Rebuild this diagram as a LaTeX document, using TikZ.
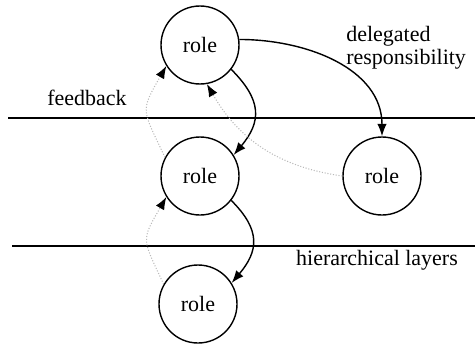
\documentclass[tikz,border=0pt]{standalone}
\usepackage{fontspec}
\setmainfont{Liberation Serif}
\usetikzlibrary{arrows.meta}

\begin{document}
\begin{tikzpicture}[
    every node/.style={font=\fontsize{12.5}{13}\selectfont},
    role/.style={draw, circle, thick, minimum size=1.56cm, inner sep=0pt},
    arrow/.style={-{Latex[length=2.5mm, width=1.9mm]}, thick},
    back/.style={-{Latex[length=2.5mm, width=1.9mm, color=black]}, gray!55, densely dotted, semithick},
    layer/.style={thick}
]
\useasboundingbox (0,0) rectangle (9.5,6.86);

\node[role] (top)   at (4.0,5.96)  {role};
\node[role] (mid)   at (4.0,3.34)  {role};
\node[role] (side)  at (7.64,3.34) {role};
\node[role] (low)   at (3.96,0.78) {role};

% layer boundaries
\coordinate (l1a) at (0.16,4.5);  \coordinate (l1b) at (9.5,4.5);
\coordinate (l2a) at (0.24,1.94); \coordinate (l2b) at (9.5,1.94);
\draw[layer] (l1a) -- (l1b);
\draw[layer] (l2a) -- (l2b);

\node (fb)   at (1.74,4.9)  {feedback};
\node[anchor=west, align=left, inner sep=0pt] (dr) at (6.92,5.9)
    {delegated\\responsibility};
\node (hl)   at (7.54,1.66) {hierarchical layers};

% delegation
\draw[arrow] (top.8) to[out=0, in=90] (side.north);
\draw[arrow] (top.-38) to[out=-45, in=50, looseness=1.3] (mid.32);
\draw[arrow] (mid.-38) to[out=-45, in=50, looseness=1.3] (low.32);

% feedback
\draw[back] (mid.152) to[out=115, in=-120, looseness=1.5] (top.-148);
\draw[back] (low.150) to[out=115, in=-120, looseness=1.5] (mid.-148);
\draw[back] (side.west) to[out=172, in=-60] (top.-80);

\end{tikzpicture}
\end{document}
